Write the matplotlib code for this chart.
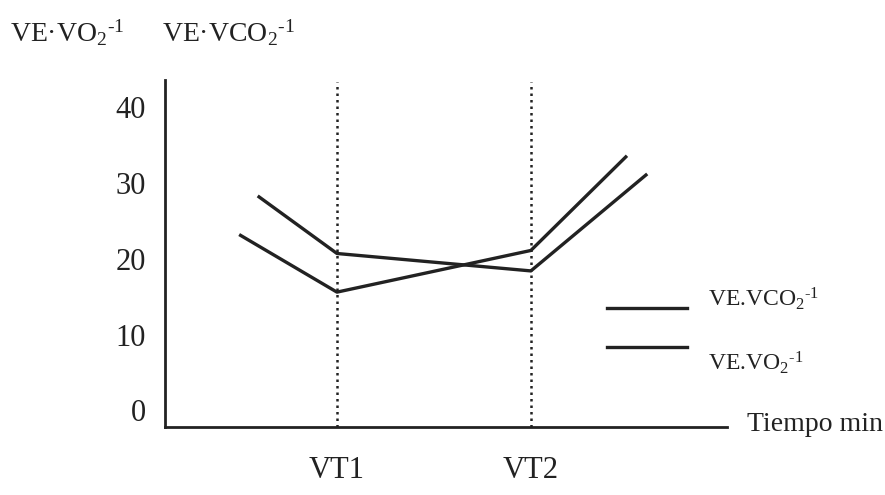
import matplotlib
matplotlib.use("Agg")
import matplotlib.pyplot as plt
import matplotlib.transforms as mtransforms

plt.rcParams['font.family'] = ['Liberation Serif', 'DejaVu Serif']
plt.rcParams['mathtext.fontset'] = 'custom'
plt.rcParams['mathtext.rm'] = 'Liberation Serif'
plt.rcParams['mathtext.it'] = 'Liberation Serif:italic'

# time positions (arbitrary units along the axis)
t_vco2 = [16.5, 30.6, 65.1, 85.8]
t_vo2 = [13.2, 30.6, 65.1, 82.2]
ve_vco2 = [28.3, 20.7, 18.4, 31.2]
ve_vo2 = [23.2, 15.6, 21.1, 33.6]
thresholds = [30.6, 65.1]
threshold_labels = ['VT1', 'VT2']
yticks = [0, 10, 20, 30, 40]

ink = '#222222'
sup = r'$^{\text{-1}}$'

fig = plt.figure(figsize=(8.85, 4.95), dpi=100)
ax = fig.add_axes([0.1864, 0.1374, 0.6351, 0.701])

ax.plot(t_vco2, ve_vco2, color=ink, lw=2.4, solid_capstyle='butt')
ax.plot(t_vo2, ve_vo2, color=ink, lw=2.4, solid_capstyle='butt')

for t in thresholds:
    ax.axvline(t, ymax=0.995, color=ink, lw=1.8, linestyle=(0, (1, 1.6)))

ax.set_xlim(0, 100)
ax.set_ylim(-2.2, 43.6)
ax.set_yticks(yticks)
ax.set_yticklabels([str(v) for v in yticks])
ax.set_xticks([])
ax.tick_params(axis='y', length=0, pad=14, labelsize=22, labelcolor=ink)
for s in ['top', 'right']:
    ax.spines[s].set_visible(False)
for s in ['left', 'bottom']:
    ax.spines[s].set_linewidth(2)
    ax.spines[s].set_color(ink)

# threshold labels under the axis
trans = mtransforms.blended_transform_factory(ax.transData, ax.transAxes)
for t, lab in zip(thresholds, threshold_labels):
    ax.text(t, -0.124, lab, transform=trans, ha='center', va='center',
            fontsize=22, color=ink)

ax.text(1.036, 0.006, 'Tiempo min', transform=ax.transAxes, ha='left',
        va='center', fontsize=20, color=ink)

# legend drawn by hand
ax.plot([0.786, 0.929], [0.343, 0.343], transform=ax.transAxes, color=ink,
        lw=2.4, clip_on=False)
ax.plot([0.786, 0.929], [0.2305, 0.2305], transform=ax.transAxes, color=ink,
        lw=2.4, clip_on=False)
ax.text(0.966, 0.37, r'VE.VCO$_2$' + sup, transform=ax.transAxes,
        ha='left', va='center', fontsize=17, color=ink)
ax.text(0.966, 0.185, r'VE.VO$_2$' + sup, transform=ax.transAxes,
        ha='left', va='center', fontsize=17, color=ink)

# y axis titles at the top
fig.text(10 / 885, 1 - 33 / 495, r'VE·VO$_2$' + sup, ha='left', va='center',
         fontsize=20, color=ink)
fig.text(162 / 885, 1 - 33 / 495, r'VE·VCO$_2$' + sup, ha='left', va='center',
         fontsize=20, color=ink)

fig.savefig('out.png', dpi=100)
